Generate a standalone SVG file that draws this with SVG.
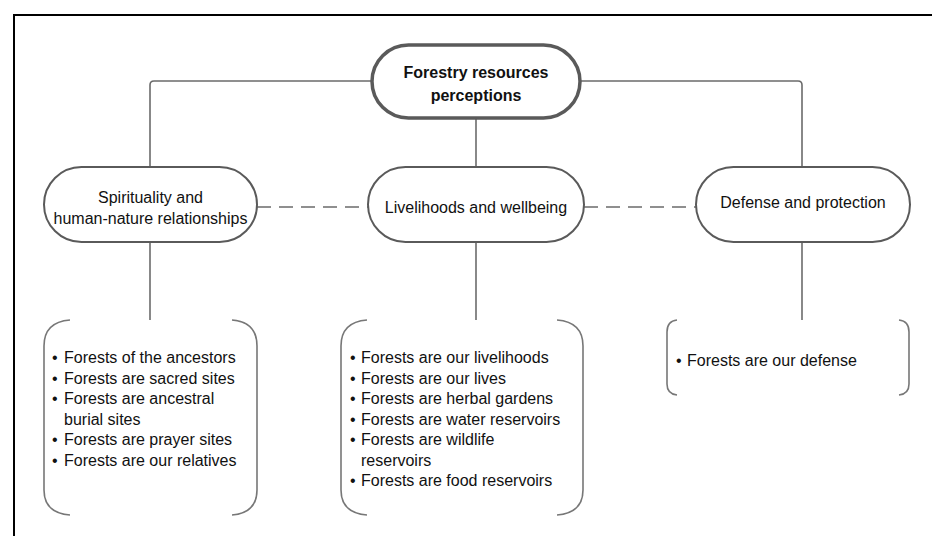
<svg xmlns="http://www.w3.org/2000/svg" width="932" height="536" viewBox="0 0 932 536">
<style>
.frame{fill:none;stroke:#000;stroke-width:2}
.node{fill:#fff;stroke:#5a5a5a;stroke-width:2}
.main{fill:#fff;stroke:#5a5a5a;stroke-width:3.5}
.con{fill:none;stroke:#6b6b6b;stroke-width:1.6}
.dash{fill:none;stroke:#6b6b6b;stroke-width:1.4;stroke-dasharray:14 8}
.br{fill:none;stroke:#777;stroke-width:1.6}
text{font-family:"Liberation Sans",Arial,sans-serif;fill:#111}
.t{font-size:16px;text-anchor:middle}
.tb{font-size:16px;font-weight:bold;text-anchor:middle}
.li{font-size:16px}
</style>
<rect class="frame" x="14" y="15" width="940" height="540"/>
<g id="connectors">
<path class="con" d="M372 81 H154 Q150 81 150 85 V167"/>
<path class="con" d="M580 81 H798 Q802 81 802 85 V167"/>
<path class="con" d="M476 118 V167"/>
<path class="dash" d="M257 207 H368"/>
<path class="dash" d="M584 207 H696"/>
<path class="con" d="M150 242 V320"/>
<path class="con" d="M476 242 V320"/>
<path class="con" d="M802 242 V320"/>
</g>
<g id="root">
<rect class="main" x="372" y="45" width="208" height="73" rx="36.5"/>
<text class="tb" x="476" y="78">Forestry resources</text>
<text class="tb" x="476" y="101">perceptions</text>
</g>
<g id="spirituality">
<rect class="node" x="44" y="167" width="213" height="75" rx="37.5"/>
<text class="t" x="150.5" y="203">Spirituality and</text>
<text class="t" x="150.5" y="224">human-nature relationships</text>
</g>
<g id="livelihoods">
<rect class="node" x="368" y="167" width="216" height="75" rx="37.5"/>
<text class="t" x="476" y="213">Livelihoods and wellbeing</text>
</g>
<g id="defense">
<rect class="node" x="696" y="167" width="214" height="75" rx="37.5"/>
<text class="t" x="803" y="208">Defense and protection</text>
</g>
<g id="list-spirituality">
<path class="br" d="M70 320 Q44 322 44 346 V490 Q44 513 70 515"/>
<path class="br" d="M232 320 Q257 322 257 346 V490 Q257 513 232 515"/>
<text class="li" x="52" y="363">•<tspan x="64">Forests of the ancestors</tspan></text>
<text class="li" x="52" y="383.5">•<tspan x="64">Forests are sacred sites</tspan></text>
<text class="li" x="52" y="404">•<tspan x="64">Forests are ancestral</tspan></text>
<text class="li" x="64" y="424.5">burial sites</text>
<text class="li" x="52" y="445">•<tspan x="64">Forests are prayer sites</tspan></text>
<text class="li" x="52" y="465.5">•<tspan x="64">Forests are our relatives</tspan></text>
</g>
<g id="list-livelihoods">
<path class="br" d="M367 320 Q341 322 341 346 V490 Q341 513 367 515"/>
<path class="br" d="M557 320 Q583 322 583 346 V490 Q583 513 557 515"/>
<text class="li" x="350" y="363">•<tspan x="361">Forests are our livelihoods</tspan></text>
<text class="li" x="350" y="383.5">•<tspan x="361">Forests are our lives</tspan></text>
<text class="li" x="350" y="404">•<tspan x="361">Forests are herbal gardens</tspan></text>
<text class="li" x="350" y="424.5">•<tspan x="361">Forests are water reservoirs</tspan></text>
<text class="li" x="350" y="445">•<tspan x="361">Forests are wildlife</tspan></text>
<text class="li" x="361" y="465.5">reservoirs</text>
<text class="li" x="350" y="486">•<tspan x="361">Forests are food reservoirs</tspan></text>
</g>
<g id="list-defense">
<path class="br" d="M677 320 Q667 321 667 332 V384 Q667 394 677 395"/>
<path class="br" d="M899 320 Q909 321 909 332 V384 Q909 394 899 395"/>
<text class="li" x="676" y="366">•<tspan x="687">Forests are our defense</tspan></text>
</g>
</svg>
